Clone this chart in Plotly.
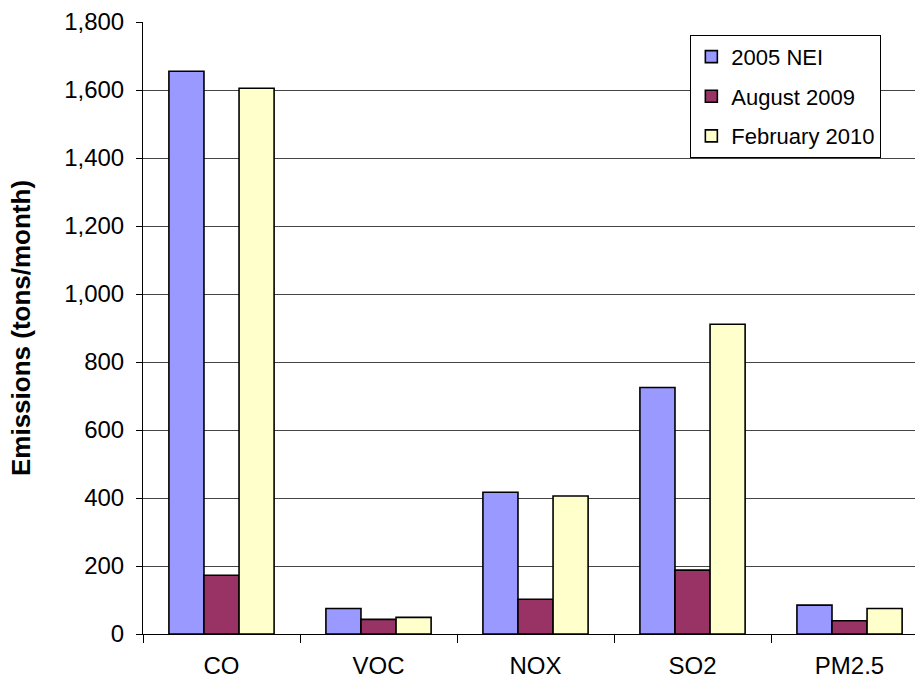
import plotly.graph_objects as go

# Monthly emissions by pollutant for three inventories
categories = ["CO", "VOC", "NOX", "SO2", "PM2.5"]
nei_2005 = [1655, 75, 417, 725, 85]
aug_2009 = [173, 43, 102, 188, 39]
feb_2010 = [1605, 49, 406, 911, 75]

series = [
    ("2005 NEI", nei_2005, "#9999FF"),
    ("August 2009", aug_2009, "#993366"),
    ("February 2010", feb_2010, "#FFFFCC"),
]

fig = go.Figure()
for i, (name, vals, color) in enumerate(series):
    fig.add_trace(go.Bar(
        x=categories, y=vals, name=name,
        legendgroup=f"g{i}",
        marker=dict(color=color, line=dict(color="black", width=1.6)),
    ))

font_main = "Arial, Liberation Sans, sans-serif"

fig.update_layout(
    width=915, height=681,
    margin=dict(l=143, r=0, t=22, b=47),
    paper_bgcolor="white", plot_bgcolor="white",
    barmode="group", bargap=0.33, bargroupgap=0,
    font=dict(family=font_main, color="black", size=24),
    showlegend=True,
    legend=dict(
        x=0.709, y=0.979, xanchor="left", yanchor="top",
        bgcolor="white", bordercolor="black", borderwidth=1,
        font=dict(size=22, family=font_main),
        traceorder="grouped", tracegroupgap=8,
    ),
    xaxis=dict(
        range=[-0.5, 4.417], automargin=False,
        showline=True, linecolor="black", linewidth=1,
        ticks="outside", tickson="boundaries", ticklen=8, tickcolor="black",
        tickfont=dict(size=24), ticklabelstandoff=10,
        showgrid=False, zeroline=False,
    ),
    yaxis=dict(
        range=[0, 1800], dtick=200, tickformat=",", automargin=False,
        showline=True, linecolor="black", linewidth=1,
        ticks="outside", ticklen=6, tickcolor="black",
        tickfont=dict(size=24), ticklabelstandoff=7,
        showgrid=True, gridcolor="#444444", gridwidth=1,
        zeroline=False,
        title=dict(text="<b>Emissions (tons/month)</b>", font=dict(size=26), standoff=26),
    ),
)

fig.write_html("out.html")
